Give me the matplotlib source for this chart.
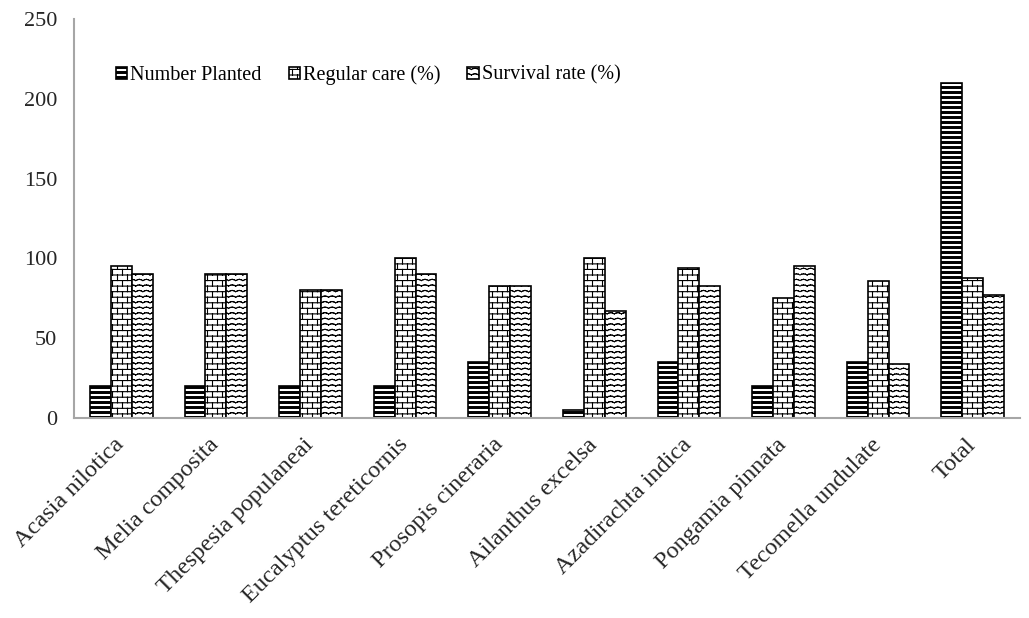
import numpy as np
import matplotlib
matplotlib.use("Agg")
import matplotlib.pyplot as plt
from matplotlib import hatch as mhatch
from matplotlib.path import Path

# ---------------------------------------------------------------- data
species = [
    "Acasia nilotica", "Melia composita", "Thespesia populaneai",
    "Eucalyptus tereticornis", "Prosopis cineraria", "Ailanthus excelsa",
    "Azadirachta indica", "Pongamia pinnata", "Tecomella undulate", "Total",
]
number_planted = [20, 20, 20, 20, 35, 5, 35, 20, 35, 210]
regular_care = [95, 90, 80, 100, 83, 100, 94, 75, 86, 88]
survival_rate = [90, 90, 80, 90, 83, 67, 83, 95, 34, 77]
series_labels = ["Number Planted", "Regular care (%)", "Survival rate (%)"]
y_ticks = [0, 50, 100, 150, 200, 250]


# ------------------------------------------------------- custom hatches
def _segments_to_path_arrays(segs):
    verts = np.asarray(segs, dtype=float).reshape(-1, 2)
    codes = np.empty(len(verts), Path.code_type)
    codes[0::2] = Path.MOVETO
    codes[1::2] = Path.LINETO
    return verts, codes


class StripeHatch(mhatch.HatchPatternBase):
    """'h': bold horizontal stripes drawn as thin filled bands."""
    rows = 20
    half = 0.009

    def __init__(self, hatch, density):
        n = self.rows if "h" in hatch else 0
        self.num_vertices = n * 5

    def set_vertices_and_codes(self, vertices, codes):
        ys = (np.arange(self.rows) + 0.5) / self.rows
        v = vertices.reshape(-1, 5, 2)
        v[:, 0, 0], v[:, 0, 1] = 0.0, ys - self.half
        v[:, 1, 0], v[:, 1, 1] = 1.0, ys - self.half
        v[:, 2, 0], v[:, 2, 1] = 1.0, ys + self.half
        v[:, 3, 0], v[:, 3, 1] = 0.0, ys + self.half
        v[:, 4, 0], v[:, 4, 1] = 0.0, ys - self.half
        c = codes.reshape(-1, 5)
        c[:, 0] = Path.MOVETO
        c[:, 1:4] = Path.LINETO
        c[:, 4] = Path.CLOSEPOLY


class BrickHatch(mhatch.HatchPatternBase):
    """'b': brick-wall pattern."""
    rows = 18
    cols = 10

    def __init__(self, hatch, density):
        self.segs = []
        if "b" in hatch:
            h = 1.0 / self.rows
            w = 1.0 / self.cols
            for r in range(self.rows):
                y0 = (r + 0.5) * h
                y1 = y0 + h
                self.segs.append(((0.0, y0), (1.0, y0)))
                off = w * 0.25 + (0.5 * w if r % 2 else 0.0)
                for c in range(self.cols):
                    x = c * w + off
                    if y1 <= 1.0:
                        self.segs.append(((x, y0), (x, y1)))
                    else:
                        self.segs.append(((x, y0), (x, 1.0)))
                        self.segs.append(((x, 0.0), (x, y1 - 1.0)))
        self.num_vertices = 2 * len(self.segs)

    def set_vertices_and_codes(self, vertices, codes):
        v, c = _segments_to_path_arrays(self.segs)
        vertices[:] = v
        codes[:] = c


class WaveHatch(mhatch.HatchPatternBase):
    """'w': rows of small waves."""
    rows = 18
    periods = 14
    steps = 4
    amp = 0.012

    def __init__(self, hatch, density):
        self.segs = []
        if "w" in hatch:
            n = self.periods * self.steps
            xs = np.linspace(0.0, 1.0, n + 1)
            wave = self.amp * np.abs(np.sin(np.pi * self.periods * xs))
            for r in range(self.rows):
                yc = (r + 0.5) / self.rows
                ys = yc + wave
                for k in range(n):
                    self.segs.append(((xs[k], ys[k]), (xs[k + 1], ys[k + 1])))
        self.num_vertices = 2 * len(self.segs)

    def set_vertices_and_codes(self, vertices, codes):
        v, c = _segments_to_path_arrays(self.segs)
        vertices[:] = v
        codes[:] = c


mhatch._hatch_types.extend([StripeHatch, BrickHatch, WaveHatch])
mhatch._validate_hatch_pattern = lambda hatch: None

# --------------------------------------------------------------- figure
plt.rcParams["font.family"] = ["Liberation Serif", "DejaVu Serif"]
plt.rcParams["hatch.linewidth"] = 0.8

fig = plt.figure(figsize=(10.29, 6.18), dpi=100)
ax = fig.add_axes([74 / 1029, 1 - 418 / 618, (1020 - 74) / 1029, (418 - 19) / 618])

x = np.arange(len(species))
width = 0.22
hatches = ["h", "b", "w"]
for i, (vals, h, lab) in enumerate(zip([number_planted, regular_care, survival_rate],
                                      hatches, series_labels)):
    ax.bar(x + (i - 1) * width, vals, width, facecolor="white",
           edgecolor="black", linewidth=1.2, hatch=h, label=lab, zorder=2)

ax.set_xlim(-0.5, len(species) - 0.5)
ax.set_ylim(0, 250)
ax.set_yticks(y_ticks)
ax.set_yticklabels([str(t) for t in y_ticks])
ax.set_xticks(x)
ax.set_xticklabels(species, rotation=45, ha="right", va="center",
                   rotation_mode="anchor")

ax.tick_params(axis="y", length=0, pad=12, labelsize=16, labelcolor="#262626")
ax.tick_params(axis="x", length=0, pad=17, labelsize=17.5, labelcolor="#262626")

for side in ("top", "right"):
    ax.spines[side].set_visible(False)
for side in ("left", "bottom"):
    ax.spines[side].set_color("#a6a6a6")
    ax.spines[side].set_linewidth(1.5)

ax.legend(loc="center left", bbox_to_anchor=(116 / 1029, 1 - 75 / 618),
          bbox_transform=fig.transFigure, ncol=3, frameon=False,
          borderpad=0, borderaxespad=0, handlelength=0.55, handleheight=0.55,
          handletextpad=0.15, columnspacing=1.35, fontsize=14.5)

fig.savefig("out.png", dpi=100)
